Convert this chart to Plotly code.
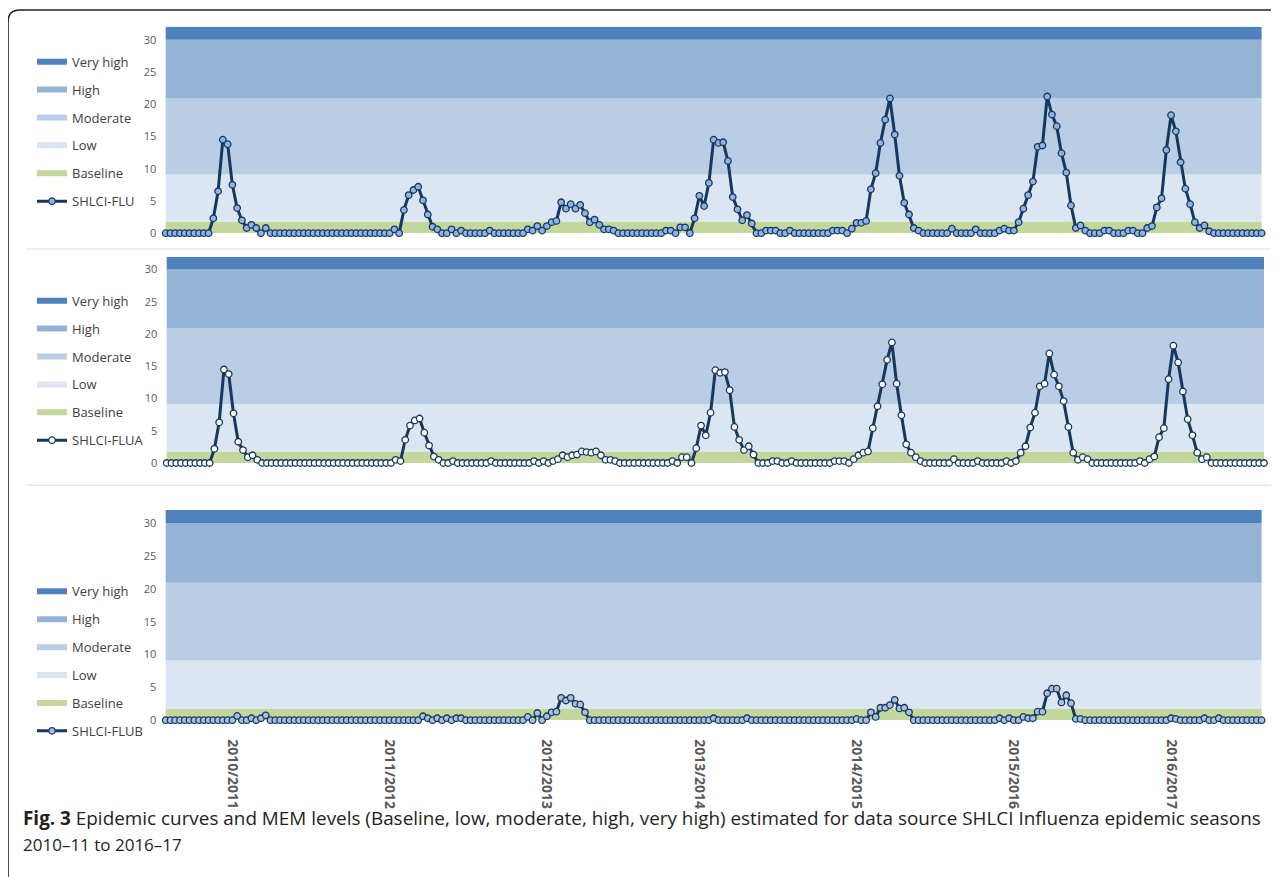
import plotly.graph_objects as go

# the page body has an 8px margin; the figure is sized to fill the rest
OFF = 8
W, H = 1279 - OFF, 877 - OFF

# ---------------- data ----------------
season_labels = ["2010/2011", "2011/2012", "2012/2013", "2013/2014",
                 "2014/2015", "2015/2016", "2016/2017"]
season_label_pos = [14, 47, 80, 112, 145, 178, 211]

level_names = ["Baseline", "Low", "Moderate", "High", "Very high"]
level_upper = [1.8, 9.1, 20.9, 30.0, 32.0]
level_colors = ["#C3D69B", "#DCE6F2", "#B9CDE5", "#95B3D7", "#4F81BD"]

flu = [
    0, 0, 0, 0, 0, 0, 0, 0, 0, 0, 2.3, 6.5, 14.5, 13.8, 7.5, 3.9, 2.0, 0.8, 1.3, 0.8, 0, 0.8, 0, 0, 0, 0, 0, 0, 0, 0, 0, 0, 0,
    0, 0, 0, 0, 0, 0, 0, 0, 0, 0, 0, 0, 0, 0, 0, 0.6, 0, 3.6, 5.9, 6.7, 7.2, 5.1, 2.9, 1.0, 0.6, 0, 0, 0.6, 0, 0.4, 0, 0, 0,
    0, 0, 0.4, 0, 0, 0, 0, 0, 0, 0, 0.6, 0.4, 1.1, 0.4, 1.1, 1.7, 1.9, 4.8, 3.8, 4.5, 3.8, 4.4, 3.1, 1.7, 2.1, 1.3, 0.6, 0.6, 0.4, 0, 0, 0, 0,
    0, 0, 0, 0, 0, 0, 0.4, 0.4, 0, 0.9, 0.9, 0, 2.3, 5.8, 4.2, 7.8, 14.5, 14.0, 14.1, 11.2, 5.6, 3.7, 2.0, 2.8, 1.5, 0, 0, 0.4, 0.4, 0.4, 0, 0, 0.4,
    0, 0, 0, 0, 0, 0, 0, 0, 0.4, 0.4, 0.4, 0, 0.7, 1.6, 1.6, 1.9, 6.8, 9.3, 14.0, 17.6, 20.9, 15.3, 8.9, 4.7, 2.9, 0.8, 0.4, 0, 0, 0, 0, 0, 0,
    0.7, 0, 0, 0, 0, 0.6, 0, 0, 0, 0, 0.4, 0.7, 0.4, 0.4, 1.7, 3.8, 5.9, 8.0, 13.4, 13.6, 21.2, 18.4, 16.6, 12.4, 9.4, 4.3, 0.8, 1.2, 0.4, 0, 0, 0, 0.4,
    0.4, 0, 0, 0, 0.4, 0.4, 0, 0, 0.8, 1.1, 4.0, 5.4, 12.9, 18.3, 15.8, 11.0, 6.9, 4.5, 1.7, 0.8, 1.2, 0.3, 0, 0, 0, 0, 0, 0, 0, 0, 0, 0, 0,
]

flua = [
    0, 0, 0, 0, 0, 0, 0, 0, 0, 0, 2.2, 6.3, 14.5, 13.8, 7.7, 3.3, 2.0, 0.9, 1.2, 0.5, 0, 0, 0, 0, 0, 0, 0, 0, 0, 0, 0, 0, 0,
    0, 0, 0, 0, 0, 0, 0, 0, 0, 0, 0, 0, 0, 0, 0, 0.5, 0.3, 3.6, 5.8, 6.6, 6.9, 4.7, 2.7, 1.0, 0.5, 0, 0, 0.3, 0, 0, 0, 0, 0,
    0, 0, 0.3, 0, 0, 0, 0, 0, 0, 0, 0, 0.3, 0, 0.3, 0, 0.3, 0.6, 1.2, 0.9, 1.2, 1.3, 1.8, 1.7, 1.6, 1.8, 1.2, 0.5, 0.5, 0.3, 0, 0, 0, 0,
    0, 0, 0, 0, 0, 0, 0, 0.3, 0, 0.9, 0.9, 0, 2.3, 5.8, 4.3, 7.8, 14.4, 14.0, 14.1, 11.3, 5.6, 3.6, 2.0, 2.6, 1.3, 0, 0, 0, 0.3, 0.3, 0, 0, 0.3,
    0, 0, 0, 0, 0, 0, 0, 0, 0.3, 0.3, 0.3, 0, 0.6, 1.2, 1.6, 1.8, 5.4, 8.8, 12.2, 16.0, 18.7, 12.3, 7.4, 2.9, 1.6, 0.9, 0.3, 0, 0, 0, 0, 0, 0,
    0.6, 0, 0, 0, 0, 0.3, 0, 0, 0, 0, 0, 0.3, 0, 0.3, 1.6, 2.6, 5.5, 7.8, 11.9, 12.3, 17.0, 13.7, 11.9, 9.6, 5.6, 1.6, 0.5, 0.9, 0.6, 0, 0, 0, 0,
    0, 0, 0, 0, 0, 0, 0.3, 0, 0.6, 1.0, 4.0, 5.4, 13.0, 18.2, 15.6, 11.1, 6.8, 4.3, 1.6, 0.6, 0.9, 0, 0, 0, 0, 0, 0, 0, 0, 0, 0, 0, 0,
]

flub = [
    0, 0, 0, 0, 0, 0, 0, 0, 0, 0, 0, 0, 0, 0, 0, 0.65, 0, 0, 0.3, 0, 0.3, 0.75, 0, 0, 0, 0, 0, 0, 0, 0, 0, 0, 0,
    0, 0, 0, 0, 0, 0, 0, 0, 0, 0, 0, 0, 0, 0, 0, 0, 0, 0, 0, 0, 0, 0.6, 0.3, 0, 0.3, 0, 0.3, 0, 0.3, 0.3, 0, 0, 0,
    0, 0, 0, 0, 0, 0, 0, 0, 0, 0, 0.5, 0, 1.1, 0, 0.6, 1.2, 1.3, 3.4, 3.0, 3.4, 2.5, 2.4, 1.2, 0, 0, 0, 0, 0, 0, 0, 0, 0, 0,
    0, 0, 0, 0, 0, 0, 0, 0, 0, 0, 0, 0, 0, 0, 0, 0, 0.3, 0, 0, 0, 0, 0, 0, 0.3, 0, 0, 0, 0, 0, 0, 0, 0, 0,
    0, 0, 0, 0, 0, 0, 0, 0, 0, 0, 0, 0, 0, 0.2, 0, 0, 1.2, 0.5, 1.9, 1.9, 2.3, 3.1, 1.8, 1.9, 1.2, 0, 0, 0, 0, 0, 0, 0, 0,
    0, 0, 0, 0, 0, 0, 0, 0, 0, 0, 0.3, 0, 0.3, 0, 0, 0.5, 0.3, 0.3, 1.3, 1.3, 4.1, 4.8, 4.8, 2.7, 3.8, 2.6, 0.2, 0.2, 0, 0, 0, 0, 0,
    0, 0, 0, 0, 0, 0, 0, 0, 0, 0, 0, 0, 0, 0.3, 0.2, 0, 0, 0, 0, 0, 0.3, 0, 0, 0.3, 0, 0, 0, 0, 0, 0, 0, 0, 0,
]

series = [
    ("SHLCI-FLU", flu, "#8EB4E3"),
    ("SHLCI-FLUA", flua, "#FFFFFF"),
    ("SHLCI-FLUB", flub, "#A9C1E0"),
]

# ---------------- layout helpers (window pixels -> paper) ----------------
def fx(p):
    return (p - OFF) / W

def fy(p):
    return 1 - (p - OFF) / H

# panel geometry in window pixels: (x_left, x_right, y_zero, y_top)
panels = [
    (163.3, 1264.0, 235.0, 27.0),
    (164.3, 1266.4, 466.7, 258.7),
    (163.3, 1264.0, 726.0, 514.0),
]
legend_tops = [47, 288, 581]

LINE = "#17375E"
fig = go.Figure()

for p, (sname, vals, mfill) in enumerate(series):
    xa = "x" if p == 0 else f"x{p + 1}"
    ya = "y" if p == 0 else f"y{p + 1}"
    lg = "legend" if p == 0 else f"legend{p + 1}"
    n = len(vals)
    xs = list(range(n))
    for k, (lname, up, col) in enumerate(zip(level_names, level_upper, level_colors)):
        fig.add_trace(go.Scatter(
            x=[0, n - 1], y=[up, up], mode="none",
            fill="tozeroy" if k == 0 else "tonexty", fillcolor=col,
            name=lname, xaxis=xa, yaxis=ya, legend=lg,
            legendgroup=f"{p}-{lname}", legendrank=10 - k, hoverinfo="skip",
        ))
    fig.add_trace(go.Scatter(
        x=xs, y=vals, mode="lines+markers", name=sname,
        line=dict(color=LINE, width=3),
        marker=dict(size=6.5, color=mfill, line=dict(color=LINE, width=1.3)),
        xaxis=xa, yaxis=ya, legend=lg, legendgroup=f"{p}-{sname}",
        legendrank=20, cliponaxis=False,
    ))

layout = dict(
    width=W, height=H,
    margin=dict(l=0, r=0, t=0, b=0),
    paper_bgcolor="white", plot_bgcolor="rgba(0,0,0,0)",
    font=dict(family="Open Sans", color="#404040"),
    showlegend=True,
)

for p, (xl, xr, y0, yt) in enumerate(panels):
    sx = "" if p == 0 else str(p + 1)
    n = len(series[p][1])
    layout[f"xaxis{sx}"] = dict(
        domain=[fx(xl), fx(xr)], range=[-0.5, n - 0.5],
        anchor=f"y{sx}", showgrid=False, zeroline=False, showline=False,
        tickvals=season_label_pos if p == 2 else [],
        ticktext=season_labels if p == 2 else [],
        tickangle=90, ticks="", ticklabelstandoff=18,
        tickfont=dict(family="Open Sans", size=14, color="#595959", weight="bold"),
        showticklabels=(p == 2),
    )
    layout[f"yaxis{sx}"] = dict(
        domain=[fy(y0), fy(yt)], range=[0, 32],
        anchor=f"x{sx}", showgrid=False, zeroline=False, showline=False,
        tickvals=[0, 5, 10, 15, 20, 25, 30], ticks="", ticklabelstandoff=6,
        tickfont=dict(family="Open Sans", size=11, color="#595959"),
    )
    lname = "legend" if p == 0 else f"legend{p + 1}"
    layout[lname] = dict(
        x=fx(32), y=fy(legend_tops[p]), xanchor="left", yanchor="top",
        bgcolor="rgba(0,0,0,0)", traceorder="grouped", tracegroupgap=8,
        font=dict(family="Open Sans", size=13, color="#404040"),
        itemclick=False, itemdoubleclick=False,
    )

fig.update_layout(**layout)

# frame and separators
fig.add_shape(type="path", xref="paper", yref="paper",
              path=f"M {fx(1300)},{fy(10)} L {fx(20)},{fy(10)} Q {fx(8)},{fy(10)} {fx(8)},{fy(22)} L {fx(8)},{fy(900)}",
              line=dict(color="#231F20", width=1.6))
fig.add_shape(type="line", xref="paper", yref="paper",
              x0=fx(27), x1=fx(1275), y0=fy(251), y1=fy(251),
              line=dict(color="#E6DCDC", width=1))
fig.add_shape(type="line", xref="paper", yref="paper",
              x0=fx(27), x1=fx(1273), y0=fy(489), y1=fy(489),
              line=dict(color="#D9D9D9", width=1))

# caption
fig.add_annotation(
    xref="paper", yref="paper", x=fx(21), y=fy(825), xanchor="left", yanchor="middle",
    showarrow=False, align="left",
    text="<b>Fig. 3</b> Epidemic curves and MEM levels (Baseline, low, moderate, high, very high) "
         "estimated for data source SHLCI Influenza epidemic seasons",
    font=dict(family="Open Sans", size=18.9, color="#231F20"),
)
fig.add_annotation(
    xref="paper", yref="paper", x=fx(21), y=fy(851), xanchor="left", yanchor="middle",
    showarrow=False, align="left", text="2010–11 to 2016–17",
    font=dict(family="Open Sans", size=17, color="#231F20"),
)

fig.write_html("out.html")
